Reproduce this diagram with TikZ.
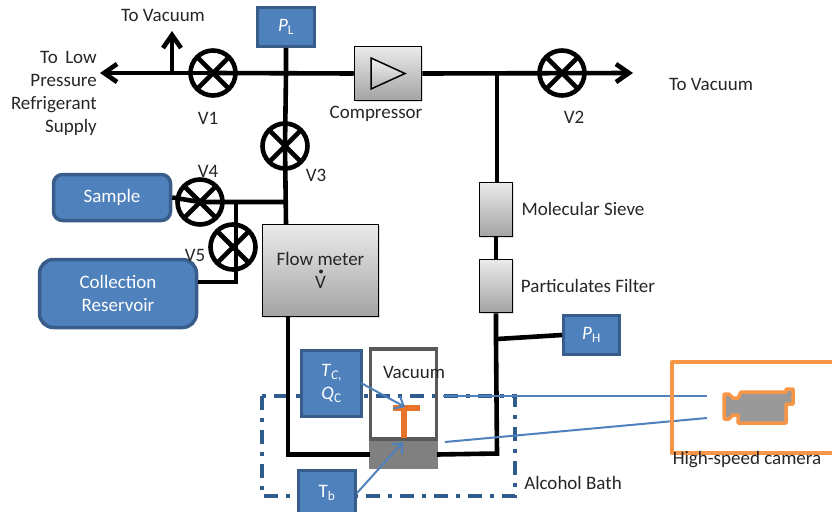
\documentclass[tikz,border=0pt]{standalone}
\usepackage{fontspec}
\setmainfont{Carlito}
\usetikzlibrary{arrows.meta,shadows}
\definecolor{boxblue}{HTML}{4F81BD}
\definecolor{boxedge}{HTML}{385D8A}
\definecolor{bathedge}{HTML}{2F5C8C}
\definecolor{campipe}{HTML}{F79646}
\definecolor{tee}{HTML}{E8732A}
\definecolor{labelgray}{HTML}{262626}
\begin{document}
\begin{tikzpicture}[
    x=1pt, y=-1pt,
    font=\fontsize{19}{23}\selectfont,
    every node/.append style={text=labelgray},
    pipe/.style={line width=4.6pt, line join=miter},
    pipeout/.style={pipe, -{Straight Barb[length=13pt,width=18pt,line width=4.6pt]}},
    valve/.style={circle, draw, line width=4.6pt, minimum size=45pt, inner sep=0pt,
      path picture={
        \draw[line width=4.6pt] (path picture bounding box.north west) -- (path picture bounding box.south east);
        \draw[line width=4.6pt] (path picture bounding box.north east) -- (path picture bounding box.south west);
      }},
    sensor/.style={draw=boxedge, fill=boxblue, line width=3pt, inner sep=0pt, align=center, text=white},
    vessel/.style={sensor, rounded corners=9pt, line width=3.5pt},
    unit/.style={draw=black, line width=1.5pt, top color=black!8, bottom color=black!36, inner sep=0pt, align=center,
      drop shadow={shadow xshift=1pt, shadow yshift=-1pt, opacity=.25}},
    sight/.style={draw=boxblue, line width=2pt},
    probe/.style={sight, -{Straight Barb[length=8pt,width=14pt,line width=2pt]}},
  ]
    \useasboundingbox (0,0) rectangle (832,511);

    \draw[bathedge, line width=3.5pt, dash pattern=on 14pt off 8pt on 4pt off 8pt] (262,396) rectangle (515,496);

    \node[valve] (v1) at (213,73) {};
    \node[valve] (v2) at (562,73) {};
    \node[valve] (v3) at (285,146) {};
    \node[valve] (v4) at (200,202) {};
    \node[valve] (v5) at (233,247) {};

    \node[sensor, minimum width=57pt, minimum height=39pt] (pl) at (286,27) {\textit{P}\textsubscript{L}};
    \node[sensor, minimum width=56pt, minimum height=39pt] (ph) at (591.5,335) {\textit{P}\textsubscript{H}};
    \node[sensor, minimum width=60pt, minimum height=66pt] (tc) at (331.5,383.5) {\textit{T}\textsubscript{\textit{C},}\\\textit{Q}\textsubscript{C}};
    \node[sensor, minimum width=57pt, minimum height=46pt] (tb) at (327,493) {T\textsubscript{b}};
    \node[vessel, minimum width=117pt, minimum height=46pt] (sample) at (112,197.5) {Sample};
    \node[vessel, rounded corners=14pt, minimum width=157pt, minimum height=68pt] (reservoir) at (118,293.5) {Collection\\Reservoir};

    \node[unit, minimum width=67pt, minimum height=54pt] (compressor) at (388,73.5) {};
    \node[unit, minimum width=116pt, minimum height=92pt] (flowmeter) at (320.5,270.5) {Flow meter\\V};
    \node[circle, fill=labelgray, inner sep=0pt, minimum size=4pt] (flowdot) at (321,271.5) {};
    \node[unit, minimum width=33pt, minimum height=54pt] (sieve) at (496,209.5) {};
    \node[unit, minimum width=33pt, minimum height=53pt] (filter) at (496,286) {};

    \fill[black!50] (369,440) rectangle (438,469);
    \node[draw=black!65, line width=3.5pt, minimum width=66pt, minimum height=90pt, inner sep=0pt] (chamber) at (403.5,394) {};
    \coordinate (bathl) at (370,454.5);
    \coordinate (bathr) at (437,454.5);

    \draw[black, line width=1.5pt, top color=black!5, bottom color=black!30] (371,58) -- (405,73.5) -- (371,89) -- cycle;

    \coordinate (supply) at (100,73);
    \coordinate (vacuumup) at (172,31);
    \coordinate (vacuumjoin) at (172,73);
    \coordinate (vacuumright) at (633,73);
    \coordinate (plline) at (286,73);
    \coordinate (sievejoin) at (497,73);
    \coordinate (v3stub) at (287,202);
    \coordinate (v5top) at (236,202);
    \coordinate (v5foot) at (236,282);
    \coordinate (phjoin) at (497,339);

    \draw[pipeout] (v1.center) -- (supply);
    \draw[pipeout] (vacuumjoin) -- (vacuumup);
    \draw[pipe] (v1.center) -- (compressor.west);
    \draw[pipeout] (compressor.east) -- (vacuumright);
    \draw[pipe] (pl.south) -- (plline) -- (v3.center) -- (286,224);
    \draw[pipe] (sievejoin) -- (497,182);
    \draw[pipe] (sieve.south) -- (filter.north);
    \draw[pipe] (filter.south) -- (496,341) -- (497,453.5) -- (bathr);
    \draw[pipe] (ph.west) -- (phjoin);
    \draw[pipe] (sample.east) -- (v4.center) -- (v3stub);
    \draw[pipe] (v5top) -- (v5foot) -- (reservoir.east |- v5foot);
    \draw[pipe] (288,317) -- (288,454.5) -- (bathl);

    \fill[tee] (393,405) rectangle (420,411);
    \fill[tee] (401,411) rectangle (407,438);

    \draw[probe] (361,383) -- (405,407);
    \draw[probe] (tb.east) -- (403,442);
    \coordinate (camtop) at (707,396);
    \coordinate (cambot) at (707,418);
    \draw[sight] (443,396) -- (camtop);
    \draw[sight] (445,442) -- (cambot);

    \draw[campipe, line width=4pt, line join=round] (834,362) -- (672,362) -- (672,453) -- (834,453);
    \draw[campipe, fill=black!40, line width=3.5pt, line join=round]
      (724,394) -- (729,394) -- (733,398) -- (738,398) -- (741,392) -- (786,392) -- (786,389) -- (793,389)
      -- (793,404) -- (786,404) -- (786,423) -- (738,423) -- (738,415) -- (733,415) -- (729,419) -- (724,419) -- cycle;

    \node (lbltop) at (163,15) {To Vacuum};
    \node[align=right, anchor=east, inner sep=0pt] (lblsupply) at (97,93.5) {To\, Low\\Pressure\\Refrigerant\\Supply};
    \node (lblv1) at (208,118) {V1};
    \node (lblv2) at (574,117) {V2};
    \node (lblv3) at (316,175) {V3};
    \node (lblv4) at (208,171) {V4};
    \node (lblv5) at (195,255) {V5};
    \node (lblright) at (711,84) {To Vacuum};
    \node (lblcomp) at (376,114) {Compressor};
    \node (lblsieve) at (583,209) {Molecular Sieve};
    \node (lblfilter) at (588,286) {Particulates Filter};
    \node (lblvac) at (414,372) {Vacuum};
    \node (lblbath) at (573,483) {Alcohol Bath};
    \node (lblcam) at (747,460) {High-speed camera};
  \end{tikzpicture}
\end{document}
